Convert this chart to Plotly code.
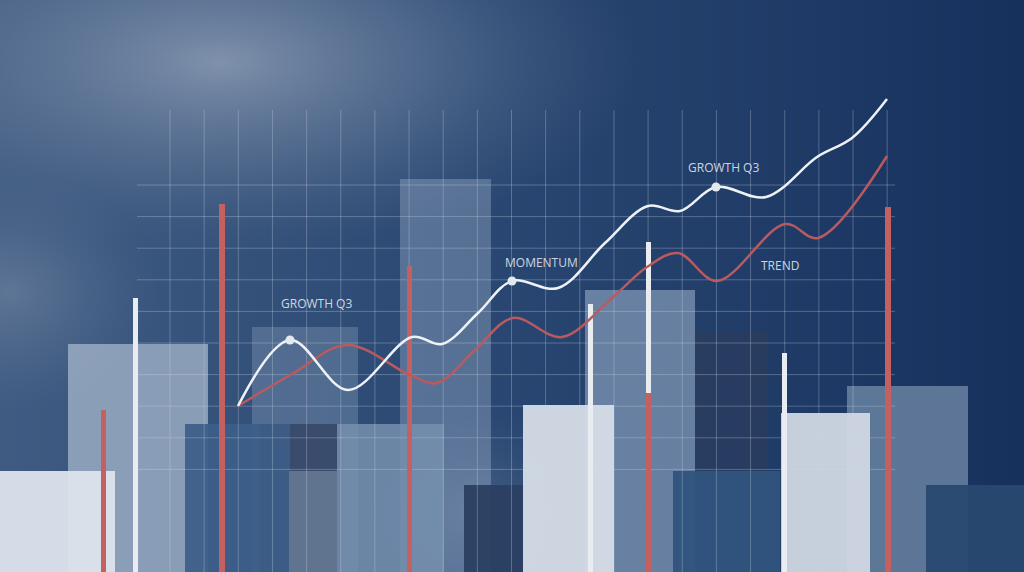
import numpy as np
import plotly.graph_objects as go

W, H = 1024, 572

# translucent columns at the back
back_x = [138, 305, 300, 445.5, 640, 731.5, 907.5]
back_w = [140, 106, 80, 91, 110, 73, 121]
back_h = [228, 245, 148, 393, 282, 241, 186]
back_c = ['rgba(170,186,206,0.72)', 'rgba(150,170,195,0.32)', 'rgba(56,74,104,0.92)',
          'rgba(160,180,205,0.38)', 'rgba(160,180,205,0.55)', 'rgba(45,60,90,0.55)',
          'rgba(110,135,165,0.80)']

# solid columns in front
front_x = [237.5, 313, 390.5, 494.5, 726.5, 976, 56, 568.5, 825.5]
front_w = [105, 48, 107, 61, 107, 100, 118, 91, 89]
front_h = [148, 101, 148, 87, 101, 87, 101, 167, 159]
front_c = ['rgba(60,94,136,0.93)', 'rgba(98,118,145,0.95)', 'rgba(118,143,174,0.85)',
           'rgba(44,64,98,0.96)', 'rgba(48,84,126,0.96)', 'rgba(40,72,112,0.94)',
           'rgba(222,228,236,0.95)', 'rgba(214,221,231,0.95)', 'rgba(208,216,227,0.95)']

# thin stems
RED, WHITE = '#c4605f', '#e9edf2'
stem_x = [103, 135, 222, 409, 590, 648, 648, 784, 888]
stem_base = [0, 0, 0, 0, 0, 0, 179, 0, 0]
stem_h = [162, 274, 368, 306, 268, 179, 151, 219, 365]
stem_w = [5, 5, 6, 5, 5, 5, 5, 5, 6]
stem_c = [RED, WHITE, RED, RED, WHITE, RED, WHITE, WHITE, RED]

# curves
white_x = [238, 290, 348, 412, 442, 478, 512, 558, 605, 648, 680, 716, 766, 817, 852, 887]
white_y = [166, 232, 182, 235, 228, 259, 291, 284, 329, 366, 361, 385, 375, 415, 434, 473]
red_x = [238, 292, 347, 410, 437, 475, 513, 562, 613, 647, 678, 717, 785, 818, 887]
red_y = [166, 198, 227, 197, 189, 222, 254, 235, 275, 305, 319, 291, 348, 334, 416]

# labels
label_x = [316, 541, 723, 780]
label_y = [269, 310, 405, 307]
label_t = ['GROWTH Q3', 'MOMENTUM', 'GROWTH Q3', 'TREND']

dots_x = [290, 512, 716]
dots_y = [232, 291, 385]

fig = go.Figure()


def blob(cx, cy, rx, ry, scale):
    fig.add_trace(go.Scatter(
        x=[cx - rx, cx + rx, cx + rx, cx - rx, cx - rx],
        y=[cy - ry, cy - ry, cy + ry, cy + ry, cy - ry],
        mode='lines', line=dict(width=0), fill='toself',
        fillgradient=dict(type='radial', colorscale=scale),
        hoverinfo='skip'))


# background (base subplot)
fig.add_trace(go.Scatter(
    x=[0, W, W, 0, 0], y=[0, 0, H, H, 0], mode='lines', line=dict(width=0),
    fill='toself',
    fillgradient=dict(type='horizontal',
                      colorscale=[[0, '#3f5b82'], [0.45, '#2a4873'], [1, '#17315d']]),
    hoverinfo='skip'))
blob(220, 510, 420, 190, [[0, 'rgba(140,156,180,0.85)'], [0.5, 'rgba(115,135,163,0.45)'],
                          [1, 'rgba(90,110,140,0)']])
blob(10, 280, 150, 120, [[0, 'rgba(125,145,170,0.5)'], [1, 'rgba(100,120,150,0)']])
blob(470, 60, 110, 110, [[0, 'rgba(140,160,185,0.3)'], [1, 'rgba(100,120,150,0)']])

# columns and grid (second subplot, above the background)
fig.add_trace(go.Bar(x=back_x, y=back_h, width=back_w, base=0, xaxis='x2', yaxis='y2',
                     marker=dict(color=back_c, line=dict(width=0)), hoverinfo='skip'))
fig.add_trace(go.Bar(x=front_x, y=front_h, width=front_w, base=0, xaxis='x2', yaxis='y2',
                     marker=dict(color=front_c, line=dict(width=0)), hoverinfo='skip'))

gx, gy = [], []
for xv in 170 + 34.15 * np.arange(22):
    gx += [xv, xv, None]
    gy += [0, H - 110, None]
for yv in 185 + 31.6 * np.arange(10):
    gx += [137, 895, None]
    gy += [H - yv, H - yv, None]
fig.add_trace(go.Scatter(x=gx, y=gy, mode='lines', xaxis='x2', yaxis='y2',
                         line=dict(color='rgba(205,218,236,0.3)', width=1), hoverinfo='skip'))

# stems and curves (third subplot, on top)
fig.add_trace(go.Bar(x=stem_x, y=stem_h, width=stem_w, base=stem_base, xaxis='x3', yaxis='y3',
                     marker=dict(color=stem_c, line=dict(width=0)), hoverinfo='skip'))
fig.add_trace(go.Scatter(x=red_x, y=red_y, mode='lines', xaxis='x3', yaxis='y3',
                         line=dict(color='#b95a5f', width=2.5, shape='spline', smoothing=1.0)))
fig.add_trace(go.Scatter(x=white_x, y=white_y, mode='lines', xaxis='x3', yaxis='y3',
                         line=dict(color='#eef2f7', width=2.5, shape='spline', smoothing=1.0)))
fig.add_trace(go.Scatter(x=dots_x, y=dots_y, mode='markers', xaxis='x3', yaxis='y3',
                         marker=dict(color='#e4e9f0', size=9, line=dict(width=0))))

for tx, ty, tt in zip(label_x, label_y, label_t):
    fig.add_annotation(x=tx, y=ty, text=tt, showarrow=False,
                       font=dict(family='Open Sans', size=12, color='rgba(225,231,240,0.9)'))

ax = dict(range=[0, W], visible=False, fixedrange=True)
ay = dict(range=[0, H], visible=False, fixedrange=True)
fig.update_layout(
    width=W, height=H,
    margin=dict(l=0, r=0, t=0, b=0),
    paper_bgcolor='#1b3762', plot_bgcolor='#1b3762',
    showlegend=False, barmode='overlay', bargap=0,
    xaxis=ax, yaxis=ay,
    xaxis2=dict(ax, overlaying='x'), yaxis2=dict(ay, overlaying='y'),
    xaxis3=dict(ax, overlaying='x'), yaxis3=dict(ay, overlaying='y'),
)

fig.write_html("out.html", config={'displayModeBar': False},
               post_script="document.body.style.margin='0';")
